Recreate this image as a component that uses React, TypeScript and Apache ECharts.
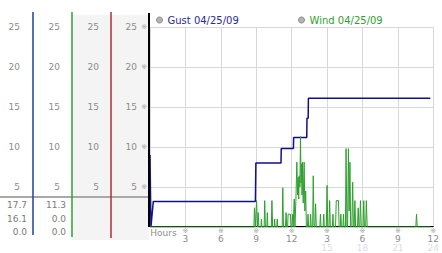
import React, { useEffect, useRef } from "react";
import * as echarts from "echarts";

// ---- data ----
const gustName = "Gust 04/25/09";
const windName = "Wind 04/25/09";

const gustHours = [0, 0.08, 0.12, 0.28, 8.93, 8.97, 11.1, 11.12, 12.15, 12.17, 13.28, 13.3, 13.4, 13.42, 23.75];
const gustValues = [9.0, 0, 0, 3.2, 3.2, 8.0, 8.0, 9.8, 9.8, 11.2, 11.2, 13.6, 13.6, 16.1, 16.1];

const windHours = [
  0, 8.8, 8.85, 8.92, 8.97, 9.03, 9.1, 9.13, 9.17, 9.22, 9.4, 9.44, 9.48, 9.67, 9.72, 9.78, 9.9, 9.94, 9.99,
  10.28, 10.33, 10.39, 10.52, 10.56, 10.6, 10.74, 10.78, 10.82, 11.2, 11.25, 11.31, 11.48, 11.53, 11.58,
  11.66, 11.7, 11.9, 11.94, 12.03, 12.08, 12.13, 12.18, 12.22, 12.28, 12.32, 12.36, 12.44, 12.5, 12.55,
  12.6, 12.64, 12.7, 12.75, 12.8, 12.85, 12.88, 12.92, 12.98, 13.06, 13.12, 13.19, 13.25, 13.34, 13.39,
  13.44, 13.56, 13.61, 13.66, 13.78, 13.83, 13.9, 13.97, 14.03, 14.09, 14.39, 14.44, 14.49, 14.67, 14.72,
  14.77, 14.94, 15.0, 15.06, 15.16, 15.22, 15.28, 15.45, 15.5, 15.55, 15.72, 15.78, 15.97, 16.02, 16.12,
  16.17, 16.22, 16.34, 16.39, 16.44, 16.56, 16.61, 16.68, 16.74, 16.81, 16.87, 16.94, 17.0, 17.1, 17.17,
  17.23, 17.3, 17.36, 17.42, 17.58, 17.64, 17.7, 17.77, 17.83, 17.9, 18.05, 18.11, 18.17, 18.27, 18.33,
  18.4, 22.52, 22.58, 22.64, 23.75,
];
const windValues = [
  0, 0, 2.4, 0, 0, 3.3, 0, 0, 1.8, 0, 0, 1.0, 0, 0, 3.3, 0, 0, 1.8, 0,
  0, 3.3, 0, 0, 1.0, 0, 0, 1.0, 0, 0, 4.9, 0, 0, 1.8, 0,
  0, 1.6, 1.6, 0, 0, 1.6, 0, 0, 3.5, 0, 0, 3.3, 8.1, 4.0, 6.2,
  3.5, 6.4, 5.0, 11.3, 5.5, 7.9, 4.0, 8.1, 3.0, 8.1, 2.0, 4.5, 0, 0, 1.6,
  0, 0, 1.6, 0, 0, 6.4, 0, 0, 2.9, 0, 0, 1.6, 0, 0, 1.6,
  0, 0, 5.2, 0, 0, 3.3, 0, 0, 1.6, 0, 0, 3.3, 3.3, 0, 0,
  1.6, 0, 0, 1.6, 0, 0, 9.8, 0, 0, 9.8, 2.0, 8.1, 0, 0, 5.6,
  0, 0, 3.3, 0, 0, 2.4, 0, 0, 3.3, 0, 0, 3.3, 0, 0, 3.3,
  0, 0, 1.6, 0, 0,
];

const gustStats = ["17.7", "16.1", "0.0"];
const windStats = ["11.3", "0.0", "0.0"];

const xTopLabels = ["", "3", "6", "9", "12", "3", "6", "9", "12"];
const xSecondLabels = ["", "", "", "", "", "15", "18", "21", "24"];

const FONT = "DejaVu Sans";

export default function App() {
  const ref = useRef<HTMLDivElement>(null);
  useEffect(() => {
    document.body.style.margin = "0";
    const chart = echarts.init(ref.current!, null, { renderer: "svg" });

    const panelAxis = (offset: number, margin: number) => ({
      type: "value",
      position: "left",
      min: 0,
      max: 25,
      interval: 5,
      offset,
      z: 10,
      axisLine: { show: false },
      axisTick: { show: false },
      splitLine: { show: false },
      axisLabel: {
        margin,
        fontSize: 9,
        color: "#8c8c8c",
        formatter: (v: number) => (v === 0 ? "" : String(v)),
      },
    });

    const statTexts: any[] = [];
    const statY = [205, 218.5, 232];
    gustStats.forEach((s, i) =>
      statTexts.push({
        type: "text",
        x: 27,
        y: statY[i],
        z: 10,
        style: { text: s, fill: "#7a7a7a", fontSize: 9, fontFamily: FONT, align: "right", textAlign: "right", verticalAlign: "middle", textVerticalAlign: "middle" },
      })
    );
    windStats.forEach((s, i) =>
      statTexts.push({
        type: "text",
        x: 66,
        y: statY[i],
        z: 10,
        style: { text: s, fill: "#7a7a7a", fontSize: 9, fontFamily: FONT, align: "right", textAlign: "right", verticalAlign: "middle", textVerticalAlign: "middle" },
      })
    );

    const legendBase = {
      icon: "circle",
      itemWidth: 6,
      itemHeight: 6,
      padding: 0,
      top: 15,
      itemStyle: { color: "#b4b4b4", borderColor: "#8a8a8a", borderWidth: 1 },
      textStyle: { fontSize: 10, fontFamily: FONT },
    };

    const option: any = {
      animation: false,
      backgroundColor: "#fff",
      textStyle: { fontFamily: FONT },
      grid: { left: 150, right: 4, top: 27, bottom: 26 },
      legend: [
        { ...legendBase, left: 156, data: [{ name: gustName, textStyle: { color: "#2a2a9c" } }] },
        { ...legendBase, left: 298, data: [{ name: windName, textStyle: { color: "#30a030" } }] },
      ],
      xAxis: {
        type: "value",
        min: 0,
        max: 24,
        interval: 3,
        offset: -1,
        axisLine: { show: true, lineStyle: { color: "#000", width: 1 } },
        axisTick: { show: false },
        splitLine: { show: true, lineStyle: { color: "#d8d8d8", width: 1 } },
        name: "Hours",
        nameLocation: "start",
        nameGap: -4,
        nameTextStyle: { align: "left", verticalAlign: "top", color: "#8c8c8c", fontSize: 9, padding: [2, 0, 0, 0] },
        axisLabel: {
          margin: 1,
          formatter: (v: number) => {
            const i = Math.round(v / 3);
            if (!xTopLabels[i]) return "";
            let s = `{s|※}\n{n|${xTopLabels[i]}}`;
            if (xSecondLabels[i]) s += `\n{g|${xSecondLabels[i]}}`;
            return s;
          },
          rich: {
            s: { fontSize: 7, lineHeight: 7, color: "#a0a0a0" },
            n: { fontSize: 9, lineHeight: 9, color: "#8c8c8c" },
            g: { fontSize: 9, lineHeight: 9, color: "#dcdce4" },
          },
        },
      },
      yAxis: [
        {
          type: "value",
          min: 0,
          max: 25,
          interval: 5,
          axisLine: { show: false },
          axisTick: { show: false },
          splitLine: { show: true, lineStyle: { color: "#d8d8d8", width: 1 } },
          axisLabel: {
            margin: 3,
            fontSize: 7,
            color: "#a0a0a0",
            formatter: (v: number) => (v === 0 ? "" : "※"),
          },
        },
        panelAxis(0, 13),
        panelAxis(39, 12),
        panelAxis(78, 12),
        panelAxis(117, 13),
      ],
      series: [
        {
          name: gustName,
          type: "line",
          showSymbol: false,
          symbol: "none",
          data: gustHours.map((h, i) => [h, gustValues[i]]),
          lineStyle: { color: "#10108a", width: 1.5 },
          itemStyle: { color: "#10108a" },
          z: 3,
        },
        {
          name: windName,
          type: "line",
          showSymbol: false,
          symbol: "none",
          data: windHours.map((h, i) => [h, windValues[i]]),
          lineStyle: { color: "#2ca02c", width: 1 },
          itemStyle: { color: "#2ca02c" },
          z: 4,
        },
      ],
      graphic: [
        { type: "rect", z: -1, shape: { x: 72, y: 15, width: 39, height: 225 }, style: { fill: "#f4f4f4" } },
        { type: "rect", z: -1, shape: { x: 111, y: 15, width: 38, height: 225 }, style: { fill: "#f4f4f4" } },
        { type: "line", z: 5, shape: { x1: 0, y1: 197, x2: 149, y2: 197 }, style: { stroke: "#a8a8a8", lineWidth: 2 } },
        { type: "line", z: 6, shape: { x1: 33, y1: 12, x2: 33, y2: 235 }, style: { stroke: "#2040a0", lineWidth: 1.5 } },
        { type: "line", z: 6, shape: { x1: 72, y1: 12, x2: 72, y2: 237 }, style: { stroke: "#30a030", lineWidth: 1.5 } },
        { type: "line", z: 6, shape: { x1: 111, y1: 12, x2: 111, y2: 238 }, style: { stroke: "#b03030", lineWidth: 1.5 } },
        { type: "line", z: 6, shape: { x1: 149, y1: 13, x2: 149, y2: 227 }, style: { stroke: "#000", lineWidth: 2 } },
        ...statTexts,
      ],
    };
    chart.setOption(option);
    return () => chart.dispose();
  }, []);
  return <div ref={ref} style={{ position: "absolute", left: 0, top: 0, width: 442, height: 253 }} />;
}
